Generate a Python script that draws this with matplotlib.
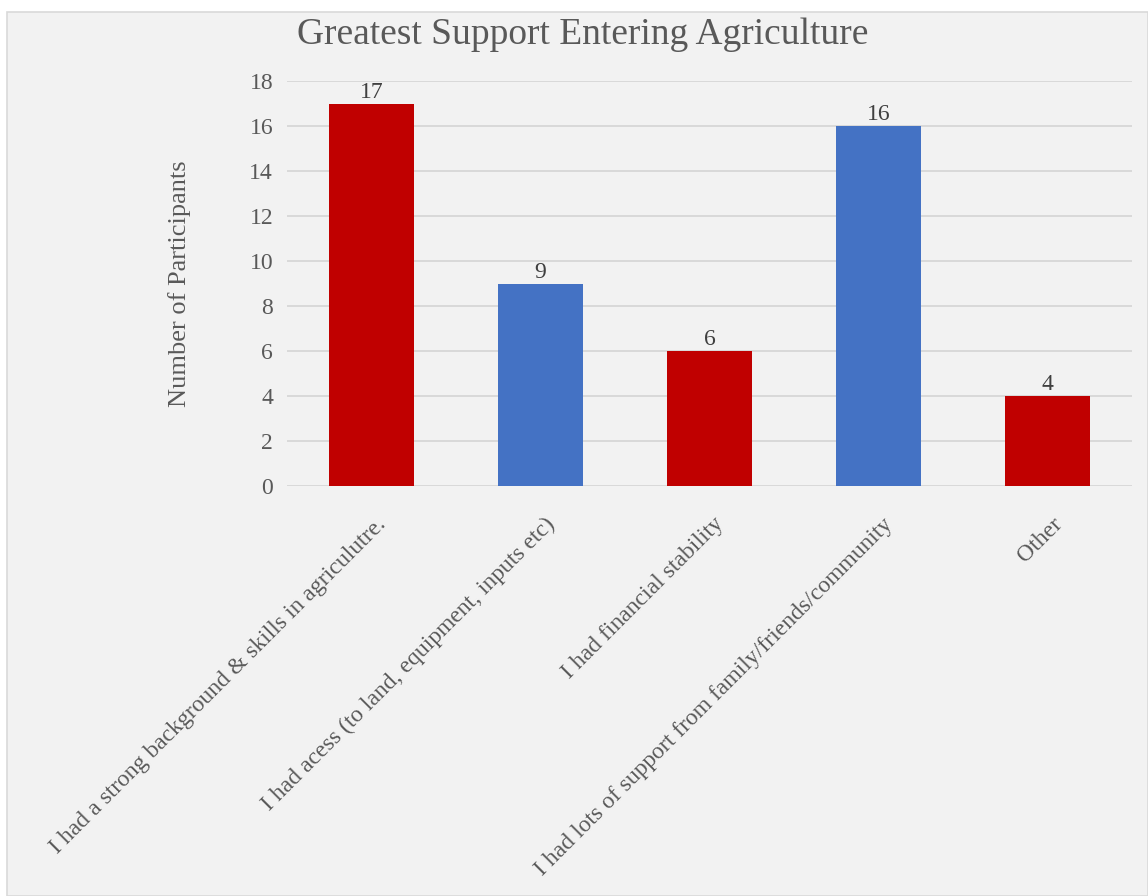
import matplotlib.pyplot as plt
import matplotlib.transforms as mtrans
from matplotlib.patches import Rectangle

categories = [
    'I had a strong background & skills in agriculutre.',
    'I had acess (to land, equipment, inputs etc)',
    'I had financial stability',
    'I had lots of support from family/friends/community',
    'Other',
]
values = [17, 9, 6, 16, 4]
colors = ['#c00000', '#4472c4', '#c00000', '#4472c4', '#c00000']

plt.rcParams['font.family'] = ['Liberation Serif', 'DejaVu Serif']
txt = '#595959'

fig = plt.figure(figsize=(11.48, 8.96), dpi=100, facecolor='white')

# gray chart panel behind everything
bg = fig.add_axes([0, 0, 1, 1], zorder=-1)
bg.axis('off')
bg.set_xlim(0, 1148)
bg.set_ylim(896, 0)
bg.add_patch(Rectangle((7, 12), 1141, 884, facecolor='#f2f2f2', edgecolor='#d9d9d9', lw=1.2))

ax = fig.add_axes([287 / 1148, 1 - 486 / 896, (1132 - 287) / 1148, (486 - 81) / 896])
ax.set_facecolor('none')

x = range(len(categories))
bars = ax.bar(x, values, width=0.5, color=colors, zorder=3)
for b, v in zip(bars, values):
    ax.text(b.get_x() + b.get_width() / 2, v + 0.03, str(v), ha='center', va='bottom',
            fontsize=17, color='#404040')

ax.set_xlim(-0.5, 4.5)
ax.set_ylim(0, 18)
ax.set_yticks(range(0, 19, 2))
ax.yaxis.grid(True, color='#d9d9d9', lw=1.4, zorder=0)
ax.set_axisbelow(True)
for s in ax.spines.values():
    s.set_visible(False)
ax.tick_params(length=0, labelsize=17, colors=txt, pad=10)
ax.tick_params(axis='x', pad=20)
ax.set_xticks(list(x))
ax.set_xticklabels(categories, rotation=45, ha='right', va='top', rotation_mode='anchor', fontsize=17)
shift = mtrans.ScaledTranslation(0.04, 0, fig.dpi_scale_trans)
for lab in ax.get_xticklabels():
    lab.set_transform(lab.get_transform() + shift)
ax.set_ylabel('Number of Participants', fontsize=19, color=txt, labelpad=42)

fig.text(583 / 1148, 1 - 35 / 896, 'Greatest Support Entering Agriculture', ha='center', va='center',
         fontsize=27, color=txt)

fig.savefig('out.png', dpi=100, facecolor=fig.get_facecolor())
